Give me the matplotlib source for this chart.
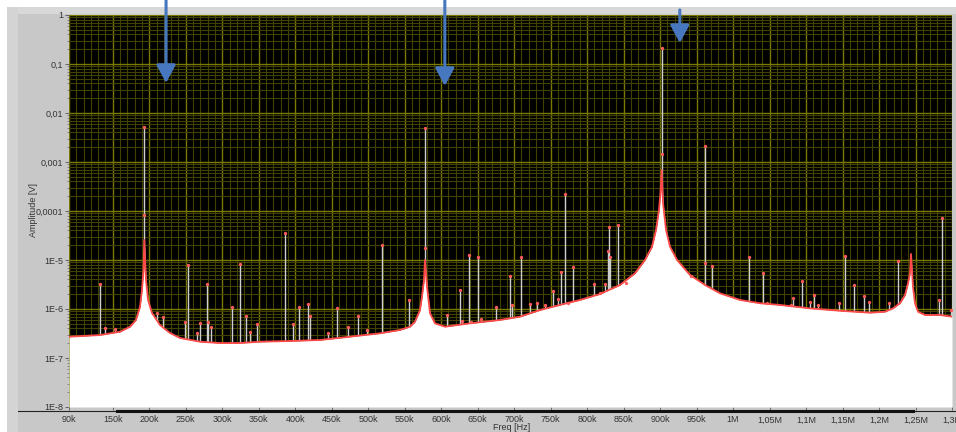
import numpy as np
import matplotlib
matplotlib.use('Agg')
import matplotlib.pyplot as plt
from matplotlib.ticker import FixedLocator, MultipleLocator, LogLocator, NullFormatter, FixedFormatter
from matplotlib.patches import Rectangle
from matplotlib.lines import Line2D

# ---------------- data (frequencies in kHz, amplitudes in V) ----------------
env_freq_k = [90, 132.5, 159.9, 173.6, 181.8, 187.3, 190.0, 192.1, 193.2, 195.5,
              198.3, 203.7, 214.7, 228.4, 242.1, 269.5, 296.9, 324.3, 351.7, 392.8,
              433.9, 475.0, 516.2, 543.6, 557.3, 564.1, 571.0, 573.7, 576.5, 577.8,
              580.6, 584.7, 591.5, 605.2, 639.5, 680.6, 708.0, 735.4, 762.8, 790.2,
              817.6, 845.0, 865.6, 879.3, 888.9, 894.4, 898.5, 900.5, 902.2, 904.0,
              908.1, 913.6, 923.2, 941.0, 961.5, 982.1, 1009.5, 1036.9, 1064.3, 1105.4,
              1146.5, 1187.6, 1208.2, 1219.1, 1228.7, 1235.6, 1239.7, 1242.4, 1243.8, 1246.5,
              1249.3, 1253.4, 1263.0, 1283.5, 1300.0]
env_amp = [2.72e-7, 2.94e-7, 3.44e-7, 4.35e-7, 5.97e-7, 1.11e-6, 2.44e-6, 6.25e-6, 2.56e-5, 3.9e-6,
           1.53e-6, 8.3e-7, 4.7e-7, 3.24e-7, 2.56e-7, 2.15e-7, 2.02e-7, 2.02e-7, 2.15e-7, 2.22e-7,
           2.33e-7, 2.72e-7, 3.19e-7, 3.73e-7, 4.35e-7, 5.5e-7, 9.5e-7, 1.78e-6, 3.9e-6, 1.0e-5,
           2.85e-6, 8.2e-7, 5.1e-7, 4.35e-7, 5.1e-7, 5.97e-7, 6.97e-7, 9.5e-7, 1.21e-6, 1.53e-6,
           2.02e-6, 3.09e-6, 5.36e-6, 1.0e-5, 1.87e-5, 4.1e-5, 1.05e-4, 2.3e-4, 6.87e-4, 1.46e-4,
           4.1e-5, 1.87e-5, 1.0e-5, 4.94e-6, 3.09e-6, 2.09e-6, 1.53e-6, 1.31e-6, 1.21e-6, 1.03e-6,
           9.2e-7, 8.4e-7, 8.8e-7, 1.03e-6, 1.31e-6, 1.93e-6, 3.34e-6, 5.36e-6, 1.33e-5, 2.85e-6,
           1.31e-6, 8.8e-7, 7.55e-7, 7.55e-7, 6.97e-7]

spike_freq_k = [193.2, 577.8, 902.2,
                133, 140, 153, 210, 219, 249, 253.5, 266, 270, 278.7, 281, 284, 313.8, 325,
                332.5, 338, 348, 386, 397, 404.7, 417, 420, 445, 457.6, 472.7, 486, 499,
                518.5, 556, 607.5, 625.7, 628, 638, 641.5, 650.8, 655, 674.6, 694, 697.6,
                709, 721.7, 730.8, 742, 752.8, 760.5, 763.7, 769.6, 774, 781, 809.4, 817.6,
                824.5, 828, 830, 832, 841.8, 853, 943, 961.5, 971, 1021.8, 1041, 1046.5,
                1079, 1082.5, 1094, 1105, 1111, 1117, 1145.5, 1154, 1166, 1180, 1186,
                1213.6, 1225.5, 1282.6, 1286, 1298]
spike_amp = [5.2e-3, 4.9e-3, 0.21,
             3.3e-6, 4.1e-7, 3.9e-7, 8.1e-7, 6.9e-7, 5.5e-7, 7.9e-6, 3.2e-7, 5.1e-7, 3.2e-6, 5.5e-7, 4.3e-7, 1.08e-6, 8.3e-6,
             7.2e-7, 3.4e-7, 4.9e-7, 3.6e-5, 4.9e-7, 1.1e-6, 1.26e-6, 7.2e-7, 3.2e-7, 1.03e-6, 4.3e-7, 7.2e-7, 3.7e-7,
             2.0e-5, 1.5e-6, 7.5e-7, 2.5e-6, 5.8e-7, 1.25e-5, 5.5e-7, 1.17e-5, 6.2e-7, 1.1e-6, 4.8e-6, 1.2e-6,
             1.17e-5, 1.26e-6, 1.35e-6, 1.2e-6, 2.35e-6, 1.6e-6, 5.7e-6, 2.2e-4, 1.3e-6, 7.1e-6, 3.3e-6, 2.1e-6,
             3.3e-6, 1.5e-5, 4.7e-5, 1.17e-5, 5.2e-5, 3.4e-6, 4.7e-6, 2.1e-3, 7.6e-6, 1.14e-5, 5.4e-6, 1.35e-6,
             1.2e-6, 1.65e-6, 3.8e-6, 1.4e-6, 1.9e-6, 1.2e-6, 1.3e-6, 1.2e-5, 3.1e-6, 1.8e-6, 1.4e-6,
             1.3e-6, 9.7e-6, 1.5e-6, 7.3e-5, 9.6e-7]

# intermediate sample points visible on the tall spikes
mid_freq_k = [193.2, 577.8, 902.2, 961.5]
mid_amp = [8.3e-5, 1.75e-5, 1.45e-3, 8.8e-6]

xtick_k = [90, 150, 200, 250, 300, 350, 400, 450, 500, 550, 600, 650, 700, 750, 800,
           850, 900, 950, 1000, 1050, 1100, 1150, 1200, 1250, 1300]
xtick_labels = ['90k', '150k', '200k', '250k', '300k', '350k', '400k', '450k', '500k', '550k',
                '600k', '650k', '700k', '750k', '800k', '850k', '900k', '950k', '1M', '1,05M',
                '1,1M', '1,15M', '1,2M', '1,25M', '1,3M']
ytick_vals = [1, 0.1, 0.01, 0.001, 1e-4, 1e-5, 1e-6, 1e-7, 1e-8]
ytick_labels = ['1', '0,1', '0,01', '0,001', '0,0001', '1E-5', '1E-6', '1E-7', '1E-8']

# annotation arrows: (freq kHz, tip amplitude, tail figure fraction)
arrow_freq_k = [223, 605, 927]
arrow_tip = [0.041, 0.0356, 0.268]
arrow_tail = [1.0, 1.0, 0.977]

# ---------------- figure ----------------
W, H = 956, 432
plt.rcParams['font.family'] = ['Liberation Sans', 'DejaVu Sans']
fig = plt.figure(figsize=(W / 100, H / 100), dpi=100, facecolor='#c8c8c8')


def box(x0, y0, w, h):
    return (x0 / W, 1 - (y0 + h) / H), w / W, h / H


for (x0, y0, w, h, c) in [(7, 7, 949, 7, '#d8d8d8'), (7, 7, 11, 425, '#d4d4d4'),
                          (0, 0, 956, 7, 'white'), (0, 0, 7, 432, 'white')]:
    xy, ww, hh = box(x0, y0, w, h)
    fig.add_artist(Rectangle(xy, ww, hh, transform=fig.transFigure, color=c, lw=0, zorder=0))

ax = fig.add_axes([69 / W, (H - 407) / H, (952 - 69) / W, 392 / H])
ax.set_facecolor('black')
ax.set_yscale('log')
ax.set_xlim(90e3, 1300e3)
ax.set_ylim(1e-8, 1)

ef = np.array(env_freq_k) * 1e3
ea = np.array(env_amp)
sf = np.array(spike_freq_k) * 1e3
sa = np.array(spike_amp)

ax.vlines(sf, 1e-8, sa, color='#cfcfcf', lw=1.0, zorder=2)
ax.fill_between(ef, 1e-8, ea, color='white', lw=0, zorder=3)
ax.plot(ef, ea, color='#ff4a4a', lw=1.3, zorder=4)
ax.plot(sf, sa, 'o', ms=2.4, color='#ff5a5a', mec='none', zorder=5)
ax.plot(np.array(mid_freq_k) * 1e3, mid_amp, 'o', ms=2.4, color='#ff5a5a', mec='none', zorder=5)

# ticks and grid
ax.xaxis.set_major_locator(FixedLocator(np.array(xtick_k) * 1e3))
ax.xaxis.set_major_formatter(FixedFormatter(xtick_labels))
ax.xaxis.set_minor_locator(MultipleLocator(10e3))
ax.yaxis.set_major_locator(FixedLocator(ytick_vals))
ax.yaxis.set_major_formatter(FixedFormatter(ytick_labels))
ax.yaxis.set_minor_locator(LogLocator(base=10, subs=np.arange(2, 10), numticks=20))
ax.yaxis.set_minor_formatter(NullFormatter())

ax.set_axisbelow(True)
ax.grid(which='major', color='#7a7a00', lw=1.0)
ax.grid(which='minor', color='#424200', lw=0.8)

ax.tick_params(axis='y', which='major', direction='out', length=3, width=0.6,
               color='#555555', labelsize=6.5, labelcolor='#333333', pad=1)
ax.tick_params(axis='y', which='minor', direction='out', length=1.5, width=0.5, color='#666666')
ax.tick_params(axis='x', which='major', direction='out', length=2, width=0.6,
               color='#555555', labelsize=6.5, labelcolor='#333333', pad=4)
ax.tick_params(axis='x', which='minor', length=0)
for s in ax.spines.values():
    s.set_visible(False)

for f, tip, tail in zip(arrow_freq_k, arrow_tip, arrow_tail):
    ax.annotate('', xy=(f * 1e3, tip), xycoords='data',
                xytext=(f * 1e3, tail), textcoords=('data', 'figure fraction'),
                arrowprops=dict(arrowstyle='-|>,head_length=1.08,head_width=0.58',
                                mutation_scale=10, lw=2.2, color='#4677bf',
                                shrinkA=0, shrinkB=0),
                annotation_clip=False, zorder=10)

# bottom scale line
yl = 1 - 410.5 / H
fig.add_artist(Line2D([18 / W, 1], [yl, yl], color='#222222', lw=0.8, transform=fig.transFigure))
fig.add_artist(Line2D([117 / W, 913 / W], [yl, yl], color='#111111', lw=2.2, transform=fig.transFigure))

fig.text(512 / W, 1 - 428 / H, 'Freq [Hz]', ha='center', va='center', fontsize=6.5, color='#333333')
fig.text(34 / W, 1 - 210 / H, 'Amplitude [V]', ha='center', va='center', rotation=90,
         fontsize=6.5, color='#333333')

fig.savefig('out.png', dpi=100, facecolor=fig.get_facecolor())
